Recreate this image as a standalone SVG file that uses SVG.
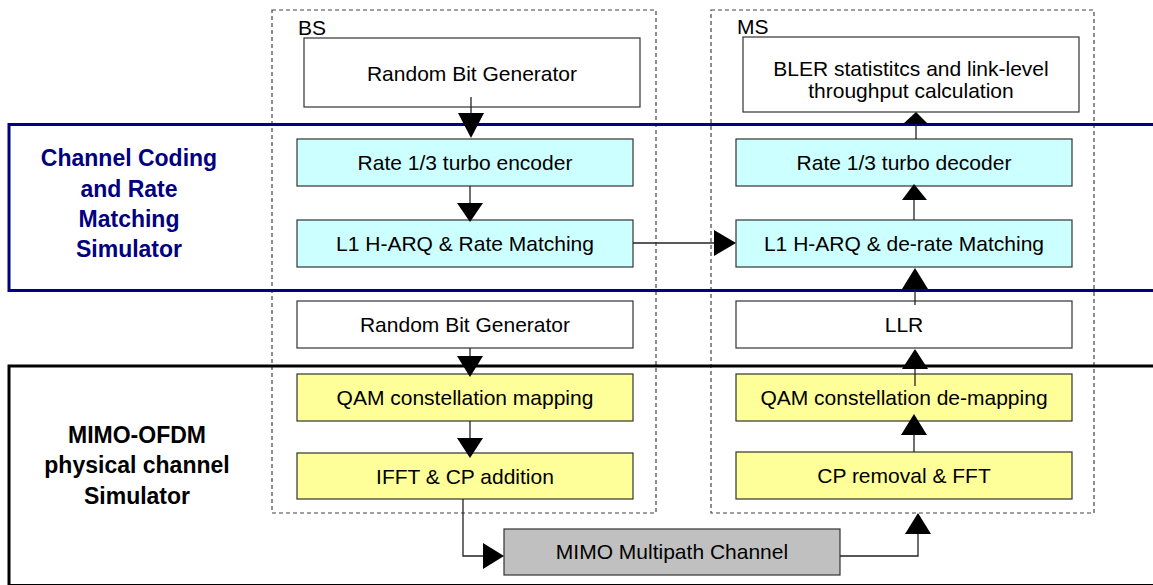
<svg xmlns="http://www.w3.org/2000/svg" width="1153" height="585" viewBox="0 0 1153 585">
<style>
.lbl{font-family:"Liberation Sans",Arial,sans-serif;font-size:21px;fill:#000;text-anchor:middle}
.side{font-family:"Liberation Sans",Arial,sans-serif;font-size:23px;font-weight:bold;text-anchor:middle}
.cap{font-family:"Liberation Sans",Arial,sans-serif;font-size:21px;fill:#000}
.box{stroke:#333;stroke-width:1.2}
.white{fill:#fff}
.cyan{fill:#ccffff}
.yellow{fill:#ffff99}
.gray{fill:#c0c0c0}
.dash{fill:none;stroke:#444;stroke-width:1.2;stroke-dasharray:4,3}
.ln{fill:none;stroke:#222;stroke-width:1.3}
.ah{fill:#000}
</style>
<rect width="1153" height="585" fill="#fff"/>
<g id="frames">
  <rect id="bs" class="dash" x="272" y="10" width="384" height="503"/>
  <rect id="ms" class="dash" x="711" y="10" width="383" height="503"/>
  <text class="cap" x="298" y="35">BS</text>
  <text class="cap" x="737" y="34">MS</text>
  <rect id="coding-frame" x="9" y="124.5" width="1160" height="166" fill="none" stroke="#000080" stroke-width="3"/>
  <rect id="mimo-frame" x="9" y="366" width="1160" height="219.5" fill="none" stroke="#000" stroke-width="3"/>
</g>
<g id="label-coding">
  <text class="side" fill="#000080" x="129" y="166">Channel Coding</text>
  <text class="side" fill="#000080" x="129" y="197">and Rate</text>
  <text class="side" fill="#000080" x="129" y="227">Matching</text>
  <text class="side" fill="#000080" x="129" y="257">Simulator</text>
</g>
<g id="label-mimo">
  <text class="side" fill="#000" x="137" y="443">MIMO-OFDM</text>
  <text class="side" fill="#000" x="137" y="473">physical channel</text>
  <text class="side" fill="#000" x="137" y="504">Simulator</text>
</g>
<g id="n-rbg1"><rect class="box white" x="304" y="38" width="336" height="69"/><text class="lbl" x="472" y="81">Random Bit Generator</text></g>
<g id="n-enc"><rect class="box cyan" x="297" y="139" width="336" height="47"/><text class="lbl" x="465" y="170">Rate 1/3 turbo encoder</text></g>
<g id="n-harq"><rect class="box cyan" x="297" y="220" width="336" height="47"/><text class="lbl" x="465" y="251">L1 H-ARQ &amp; Rate Matching</text></g>
<g id="n-rbg2"><rect class="box white" x="297" y="301" width="336" height="47"/><text class="lbl" x="465" y="332">Random Bit Generator</text></g>
<g id="n-qam"><rect class="box yellow" x="297" y="374" width="336" height="47"/><text class="lbl" x="465" y="405">QAM constellation mapping</text></g>
<g id="n-ifft"><rect class="box yellow" x="297" y="453" width="336" height="46"/><text class="lbl" x="465" y="484">IFFT &amp; CP addition</text></g>
<g id="n-bler"><rect class="box white" x="743" y="37" width="336" height="75"/><text class="lbl" x="911" y="76">BLER statistitcs and link-level</text><text class="lbl" x="911" y="98">throughput calculation</text></g>
<g id="n-dec"><rect class="box cyan" x="736" y="139" width="336" height="47"/><text class="lbl" x="904" y="170">Rate 1/3 turbo decoder</text></g>
<g id="n-deharq"><rect class="box cyan" x="736" y="220" width="336" height="47"/><text class="lbl" x="904" y="251">L1 H-ARQ &amp; de-rate Matching</text></g>
<g id="n-llr"><rect class="box white" x="736" y="301" width="336" height="47"/><text class="lbl" x="904" y="332">LLR</text></g>
<g id="n-qamde"><rect class="box yellow" x="736" y="374" width="336" height="47"/><text class="lbl" x="904" y="405">QAM constellation de-mapping</text></g>
<g id="n-fft"><rect class="box yellow" x="736" y="452" width="336" height="47"/><text class="lbl" x="904" y="483">CP removal &amp; FFT</text></g>
<g id="n-chan"><rect class="box gray" x="504" y="529" width="336" height="46"/><text class="lbl" x="672" y="559">MIMO Multipath Channel</text></g>
<g id="connectors">
  <line class="ln" x1="471" y1="97" x2="471" y2="114"/><polygon class="ah" points="458,113 484,113 471,138"/>
  <line class="ln" x1="470" y1="186" x2="470" y2="203"/><polygon class="ah" points="457,203 483,203 470,222"/>
  <line class="ln" x1="633" y1="243" x2="715" y2="243"/><polygon class="ah" points="714,230 714,256 736,243"/>
  <line class="ln" x1="470" y1="348" x2="470" y2="357"/><polygon class="ah" points="457,356 483,356 470,377"/>
  <line class="ln" x1="470" y1="421" x2="470" y2="439"/><polygon class="ah" points="457,438 483,438 470,458"/>
  <polyline class="ln" points="463,499 463,556 484,556"/><polygon class="ah" points="483,543 483,569 504,556"/>
  <polyline class="ln" points="840,556 918,556 918,533"/><polygon class="ah" points="905,534 931,534 918,513"/>
  <line class="ln" x1="914" y1="452" x2="914" y2="434"/><polygon class="ah" points="901,435 927,435 914,414"/>
  <line class="ln" x1="915" y1="386" x2="915" y2="368"/><polygon class="ah" points="902,369 928,369 915,349"/>
  <line class="ln" x1="915" y1="305" x2="915" y2="288"/><polygon class="ah" points="902,289 928,289 915,268"/>
  <line class="ln" x1="914" y1="220" x2="914" y2="199"/><polygon class="ah" points="902,200 927,200 914,184"/>
  <line class="ln" x1="916" y1="139" x2="916" y2="123"/><polygon class="ah" points="903,124 928,124 916,112"/>
</g>
</svg>
